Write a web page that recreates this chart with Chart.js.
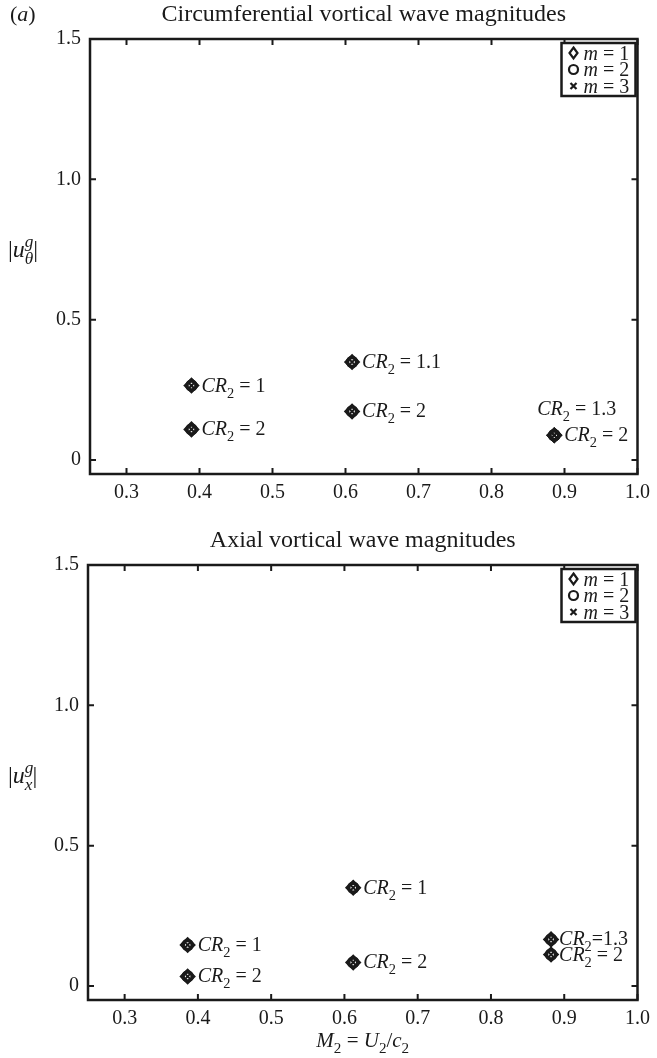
<!DOCTYPE html>
<html>
<head>
<meta charset="utf-8">
<script src="https://cdn.jsdelivr.net/npm/chart.js@4.4.1/dist/chart.umd.min.js"></script>
<style>
  html, body { margin: 0; padding: 0; background: #fff; }
  #wrap { position: relative; width: 657px; height: 1058px; }
  .panel { position: absolute; left: 0; width: 657px; }
</style>
</head>
<body>
<div id="wrap">
  <div class="panel" style="top:0;height:520px"><canvas id="circChart" width="657" height="520"></canvas></div>
  <div class="panel" style="top:520px;height:538px"><canvas id="axialChart" width="657" height="538"></canvas></div>
</div>
<script>
/* ================= DATA ================= */

const xTicks = [0.3, 0.4, 0.5, 0.6, 0.7, 0.8, 0.9, 1.0];
const yTicks = [0, 0.5, 1.0, 1.5];
const modeNames = ["1", "2", "3"];

// circumferential panel
const circM2  = [0.389, 0.389, 0.609, 0.609, 0.886, 0.886];
const circMag = [0.265, 0.109, 0.349, 0.173, 0.088, 0.088];
const circCR  = ["1", "2", "1.1", "2", "1.3", "2"];

// axial panel
const axialM2  = [0.386, 0.386, 0.612, 0.612, 0.882, 0.882];
const axialMag = [0.146, 0.034, 0.350, 0.084, 0.166, 0.112];
const axialCR  = ["1", "2", "1", "2", "1.3", "2"];

/* ================= TEXT HELPERS ================= */

const SERIF = '"Liberation Serif", "DejaVu Serif", serif';
const INK = "#1a1a1a";

// parts: [text, kind, noAdvance]; kind r | i | sub | isub | isup
function drawRich(ctx, parts, x, y, size, align) {
  const pieces = parts.map(([t, k, stay]) => {
    const small = /sub|sup/.test(k);
    const font = (k[0] === "i" ? "italic " : "") + (small ? size * 0.72 : size) + "px " + SERIF;
    ctx.font = font;
    const dy = /sub/.test(k) ? size * 0.3 : /sup/.test(k) ? -size * 0.42 : 0;
    return { t, font, dy, w: ctx.measureText(t).width, stay };
  });
  const total = pieces.reduce((s, p) => s + (p.stay ? 0 : p.w), 0);
  let cx = align === "center" ? x - total / 2 : align === "right" ? x - total : x;
  ctx.textAlign = "left";
  ctx.textBaseline = "alphabetic";
  ctx.fillStyle = INK;
  pieces.forEach(p => {
    ctx.font = p.font;
    ctx.fillText(p.t, cx, y + p.dy);
    if (!p.stay) cx += p.w;
  });
}

function legendMark(ctx, kind, x, y) {
  ctx.beginPath();
  if (kind === "rectRot") {
    ctx.moveTo(x, y - 5.5); ctx.lineTo(x + 4, y); ctx.lineTo(x, y + 5.5); ctx.lineTo(x - 4, y); ctx.closePath();
  } else if (kind === "circle") {
    ctx.arc(x, y, 4.5, 0, Math.PI * 2);
  } else {
    ctx.moveTo(x - 3, y - 3); ctx.lineTo(x + 3, y + 3);
    ctx.moveTo(x + 3, y - 3); ctx.lineTo(x - 3, y + 3);
  }
  ctx.stroke();
}

/* ================= PLUGIN: frame, labels, legend ================= */

const panelDecor = {
  id: "panelDecor",
  beforeDatasetsDraw(chart) {
    const { ctx, chartArea: a, scales: { x, y } } = chart;
    const t = 6;
    ctx.save();
    ctx.strokeStyle = INK;
    ctx.lineWidth = 2;
    ctx.beginPath();
    x.ticks.forEach(tk => {
      const px = x.getPixelForValue(tk.value);
      ctx.moveTo(px, a.bottom); ctx.lineTo(px, a.bottom - t);
      ctx.moveTo(px, a.top); ctx.lineTo(px, a.top + t);
    });
    y.ticks.forEach(tk => {
      const py = y.getPixelForValue(tk.value);
      ctx.moveTo(a.left, py); ctx.lineTo(a.left + t, py);
      ctx.moveTo(a.right, py); ctx.lineTo(a.right - t, py);
    });
    ctx.stroke();
    ctx.lineWidth = 2.5;
    ctx.strokeRect(a.left, a.top, a.right - a.left, a.bottom - a.top);
    ctx.restore();
  },
  afterDatasetsDraw(chart, args, o) {
    const { ctx, chartArea: a, scales: { x, y } } = chart;
    const mid = (a.left + a.right) / 2;
    ctx.save();

    // point labels
    o.m2.forEach((m, i) => {
      const px = x.getPixelForValue(m);
      const py = y.getPixelForValue(o.mag[i]);
      const place = o.place(i);
      const eq = place.tight ? "=" + o.cr[i] : " = " + o.cr[i];
      drawRich(ctx, [["CR", "i"], ["2", "sub"], [eq, "r"]], px + place.dx, py + place.dy, 20, "left");
    });

    // titles and axis labels
    drawRich(ctx, [[o.title, "r"]], mid, o.titleY, 24, "center");
    if (o.tag) drawRich(ctx, [["(", "r"], ["a", "i"], [")", "r"]], 10, o.titleY, 22, "left");
    drawRich(ctx, o.yLabel, 8, o.yLabelY, 24, "left");
    if (o.xLabel) drawRich(ctx, o.xLabel, mid, o.xLabelY, 21, "center");

    // legend box
    const bw = 74, bh = 53;
    const bx = a.right - 2 - bw, by = a.top + 4;
    ctx.strokeStyle = INK;
    ctx.lineWidth = 2.5;
    ctx.fillStyle = "#fff";
    ctx.fillRect(bx, by, bw, bh);
    ctx.strokeRect(bx, by, bw, bh);
    chart.data.datasets.forEach((ds, i) => {
      const ry = by + 10 + i * 16.5;
      ctx.lineWidth = 2.2;
      legendMark(ctx, ds.pointStyle, bx + 12, ry);
      drawRich(ctx, [["m", "i"], [" = " + modeNames[i], "r"]], bx + 22, ry + 6.5, 20, "left");
    });
    ctx.restore();
  }
};

/* ================= CHARTS ================= */

const markStyles = [
  { pointStyle: "rectRot", pointRadius: 6.5, pointBorderWidth: 2.5 },
  { pointStyle: "circle", pointRadius: 4.5, pointBorderWidth: 3.5 },
  { pointStyle: "crossRot", pointRadius: 4, pointBorderWidth: 2 }
];

function makeChart(id, m2, mag, cr, cfg) {
  return new Chart(document.getElementById(id), {
    type: "scatter",
    data: {
      datasets: markStyles.map((s, i) => ({
        label: "m = " + modeNames[i],
        data: m2.map((m, k) => ({ x: m, y: mag[k] })),
        pointStyle: s.pointStyle,
        pointRadius: s.pointRadius,
        pointBorderWidth: s.pointBorderWidth,
        borderColor: INK,
        backgroundColor: "rgba(0,0,0,0)"
      }))
    },
    options: {
      responsive: false,
      animation: false,
      events: [],
      layout: { padding: { top: cfg.padTop, right: cfg.padRight, left: 0, bottom: 0 } },
      scales: {
        x: {
          type: "linear", min: 0.25, max: 1.0,
          grid: { display: false, drawTicks: false },
          border: { display: false },
          afterBuildTicks: s => { s.ticks = xTicks.map(v => ({ value: v })); },
          afterFit: s => { s.height = cfg.xHeight; },
          ticks: {
            autoSkip: false, maxRotation: 0, padding: 7, color: INK,
            font: { family: SERIF, size: 20 },
            callback: v => v.toFixed(1)
          }
        },
        y: {
          type: "linear", min: -0.05, max: 1.5,
          grid: { display: false, drawTicks: false },
          border: { display: false },
          afterBuildTicks: s => { s.ticks = yTicks.map(v => ({ value: v })); },
          afterFit: s => { s.width = cfg.yWidth; },
          ticks: {
            padding: 9, color: INK,
            font: { family: SERIF, size: 20 },
            callback: v => (v === 0 ? "0" : v.toFixed(1))
          }
        }
      },
      plugins: {
        legend: { display: false },
        tooltip: { enabled: false },
        panelDecor: Object.assign({ m2, mag, cr }, cfg)
      }
    },
    plugins: [panelDecor]
  });
}

makeChart("circChart", circM2, circMag, circCR, {
  padTop: 39, padRight: 7, yWidth: 90, xHeight: 46,
  title: "Circumferential vortical wave magnitudes", titleY: 21, tag: true,
  yLabel: [["|", "r"], ["u", "i"], ["g", "isup", true], ["θ", "isub"], ["|", "r"]], yLabelY: 257,
  place: i => (circCR[i] === "1.3" ? { dx: -17, dy: -20 } : { dx: 10, dy: 6 })
});

makeChart("axialChart", axialM2, axialMag, axialCR, {
  padTop: 45, padRight: 12, yWidth: 88, xHeight: 58,
  title: "Axial vortical wave magnitudes", titleY: 27, tag: false,
  yLabel: [["|", "r"], ["u", "i"], ["g", "isup", true], ["x", "isub"], ["|", "r"]], yLabelY: 263,
  xLabel: [["M", "i"], ["2", "sub"], [" = ", "r"], ["U", "i"], ["2", "sub"], ["/", "r"], ["c", "i"], ["2", "sub"]],
  xLabelY: 527,
  place: i => (axialM2[i] > 0.8 ? { dx: 8, dy: 6, tight: axialCR[i] === "1.3" } : { dx: 10, dy: 6 })
});
</script>
</body>
</html>
